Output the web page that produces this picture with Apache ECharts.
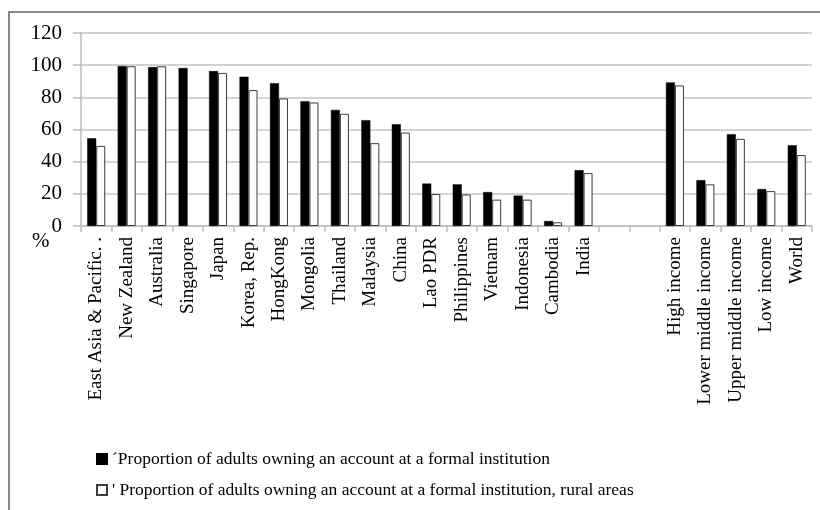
<!DOCTYPE html>
<html>
<head>
    <meta charset="UTF-8">
    <title>Account ownership</title>
    <script type="text/javascript" src="https://cdn.jsdelivr.net/npm/echarts@6/dist/echarts.min.js"></script>
</head>
<body style="margin: 0;overflow: hidden;background: #fff;width: 820px;height: 510px;">
<div id="chart" style="width: 820px;height: 510px"></div>
<script type="text/javascript">
    var categories = ['East Asia & Pacific. .', 'New Zealand', 'Australia', 'Singapore', 'Japan', 'Korea, Rep.',
        'HongKong', 'Mongolia', 'Thailand', 'Malaysia', 'China', 'Lao PDR', 'Philippines', 'Vietnam',
        'Indonesia', 'Cambodia', 'India', ' ', '  ', 'High income', 'Lower middle income',
        'Upper middle income', 'Low income', 'World'];
    var allAdults = [54.5, 99.5, 98.8, 98.2, 96.3, 92.8, 88.8, 77.6, 72.2, 65.8, 63.3, 26.4, 25.9, 21.1,
        18.9, 3.1, 34.7, null, null, 89.3, 28.5, 57.1, 23.0, 50.2];
    var ruralAdults = [49.8, 99.3, 99.3, null, 95.2, 84.5, 79.3, 76.8, 69.8, 51.5, 58.1, 19.9, 19.6, 16.4,
        16.4, 2.3, 32.9, null, null, 87.4, 25.9, 54.2, 21.7, 44.1];
    var yTicks = [0, 20, 40, 60, 80, 100, 120];
    var seriesNames = ['\u00b4Proportion of adults owning an account at a formal institution',
        '\' Proportion of adults owning an account at a formal institution, rural areas'];

    var serif = '"Liberation Serif", "DejaVu Serif", serif';
    var chart = echarts.init(document.getElementById('chart'), null, {renderer: 'canvas'});
    var option = {
        backgroundColor: '#fff',
        animation: false,
        grid: {left: 81, right: 8, top: 33, bottom: 284, containLabel: false},
        legend: {
            orient: 'vertical',
            left: 91,
            top: 444,
            itemWidth: 10,
            itemHeight: 10,
            itemGap: 11,
            icon: 'rect',
            textStyle: {fontFamily: serif, fontSize: 17.5, color: '#000', lineHeight: 20},
            data: seriesNames
        },
        xAxis: {
            type: 'category',
            data: categories,
            axisLine: {lineStyle: {color: '#bdbdbd', width: 1.5}},
            axisTick: {show: true, length: 6, interval: 0, lineStyle: {color: '#bdbdbd', width: 1.5}},
            axisLabel: {
                interval: 0,
                rotate: 90,
                margin: 11,
                fontFamily: serif,
                fontSize: 19,
                color: '#000'
            }
        },
        yAxis: {
            type: 'value',
            min: yTicks[0],
            max: yTicks[yTicks.length - 1],
            interval: 20,
            axisLine: {show: true, lineStyle: {color: '#bdbdbd', width: 1.5}},
            axisTick: {show: true, length: 8, lineStyle: {color: '#bdbdbd', width: 1.5}},
            splitLine: {lineStyle: {color: '#c4c4c4', width: 1.5}},
            axisLabel: {margin: 19, fontFamily: serif, fontSize: 21, color: '#000'}
        },
        series: [{
            name: seriesNames[0],
            type: 'bar',
            data: allAdults,
            barWidth: 9,
            barGap: '0%',
            itemStyle: {color: '#000', borderColor: '#000', borderWidth: 0.5}
        }, {
            name: seriesNames[1],
            type: 'bar',
            data: ruralAdults,
            barWidth: 9,
            barGap: '0%',
            itemStyle: {color: '#fff', borderColor: '#3c3c3c', borderWidth: 1}
        }],
        graphic: [{
            type: 'rect',
            z: 100,
            silent: true,
            shape: {x: 20, y: 405, width: 800, height: 38},
            style: {fill: '#fff'}
        }, {
            type: 'text',
            left: 32,
            top: 231,
            style: {text: '%', font: '21px ' + serif, fill: '#000'}
        }, {
            type: 'line',
            z: 101,
            shape: {x1: 9, y1: 11, x2: 9, y2: 510},
            style: {stroke: '#878787', lineWidth: 2}
        }, {
            type: 'line',
            z: 101,
            shape: {x1: 8, y1: 12, x2: 820, y2: 12},
            style: {stroke: '#878787', lineWidth: 2}
        }]
    };
    chart.setOption(option);
</script>
</body>
</html>
